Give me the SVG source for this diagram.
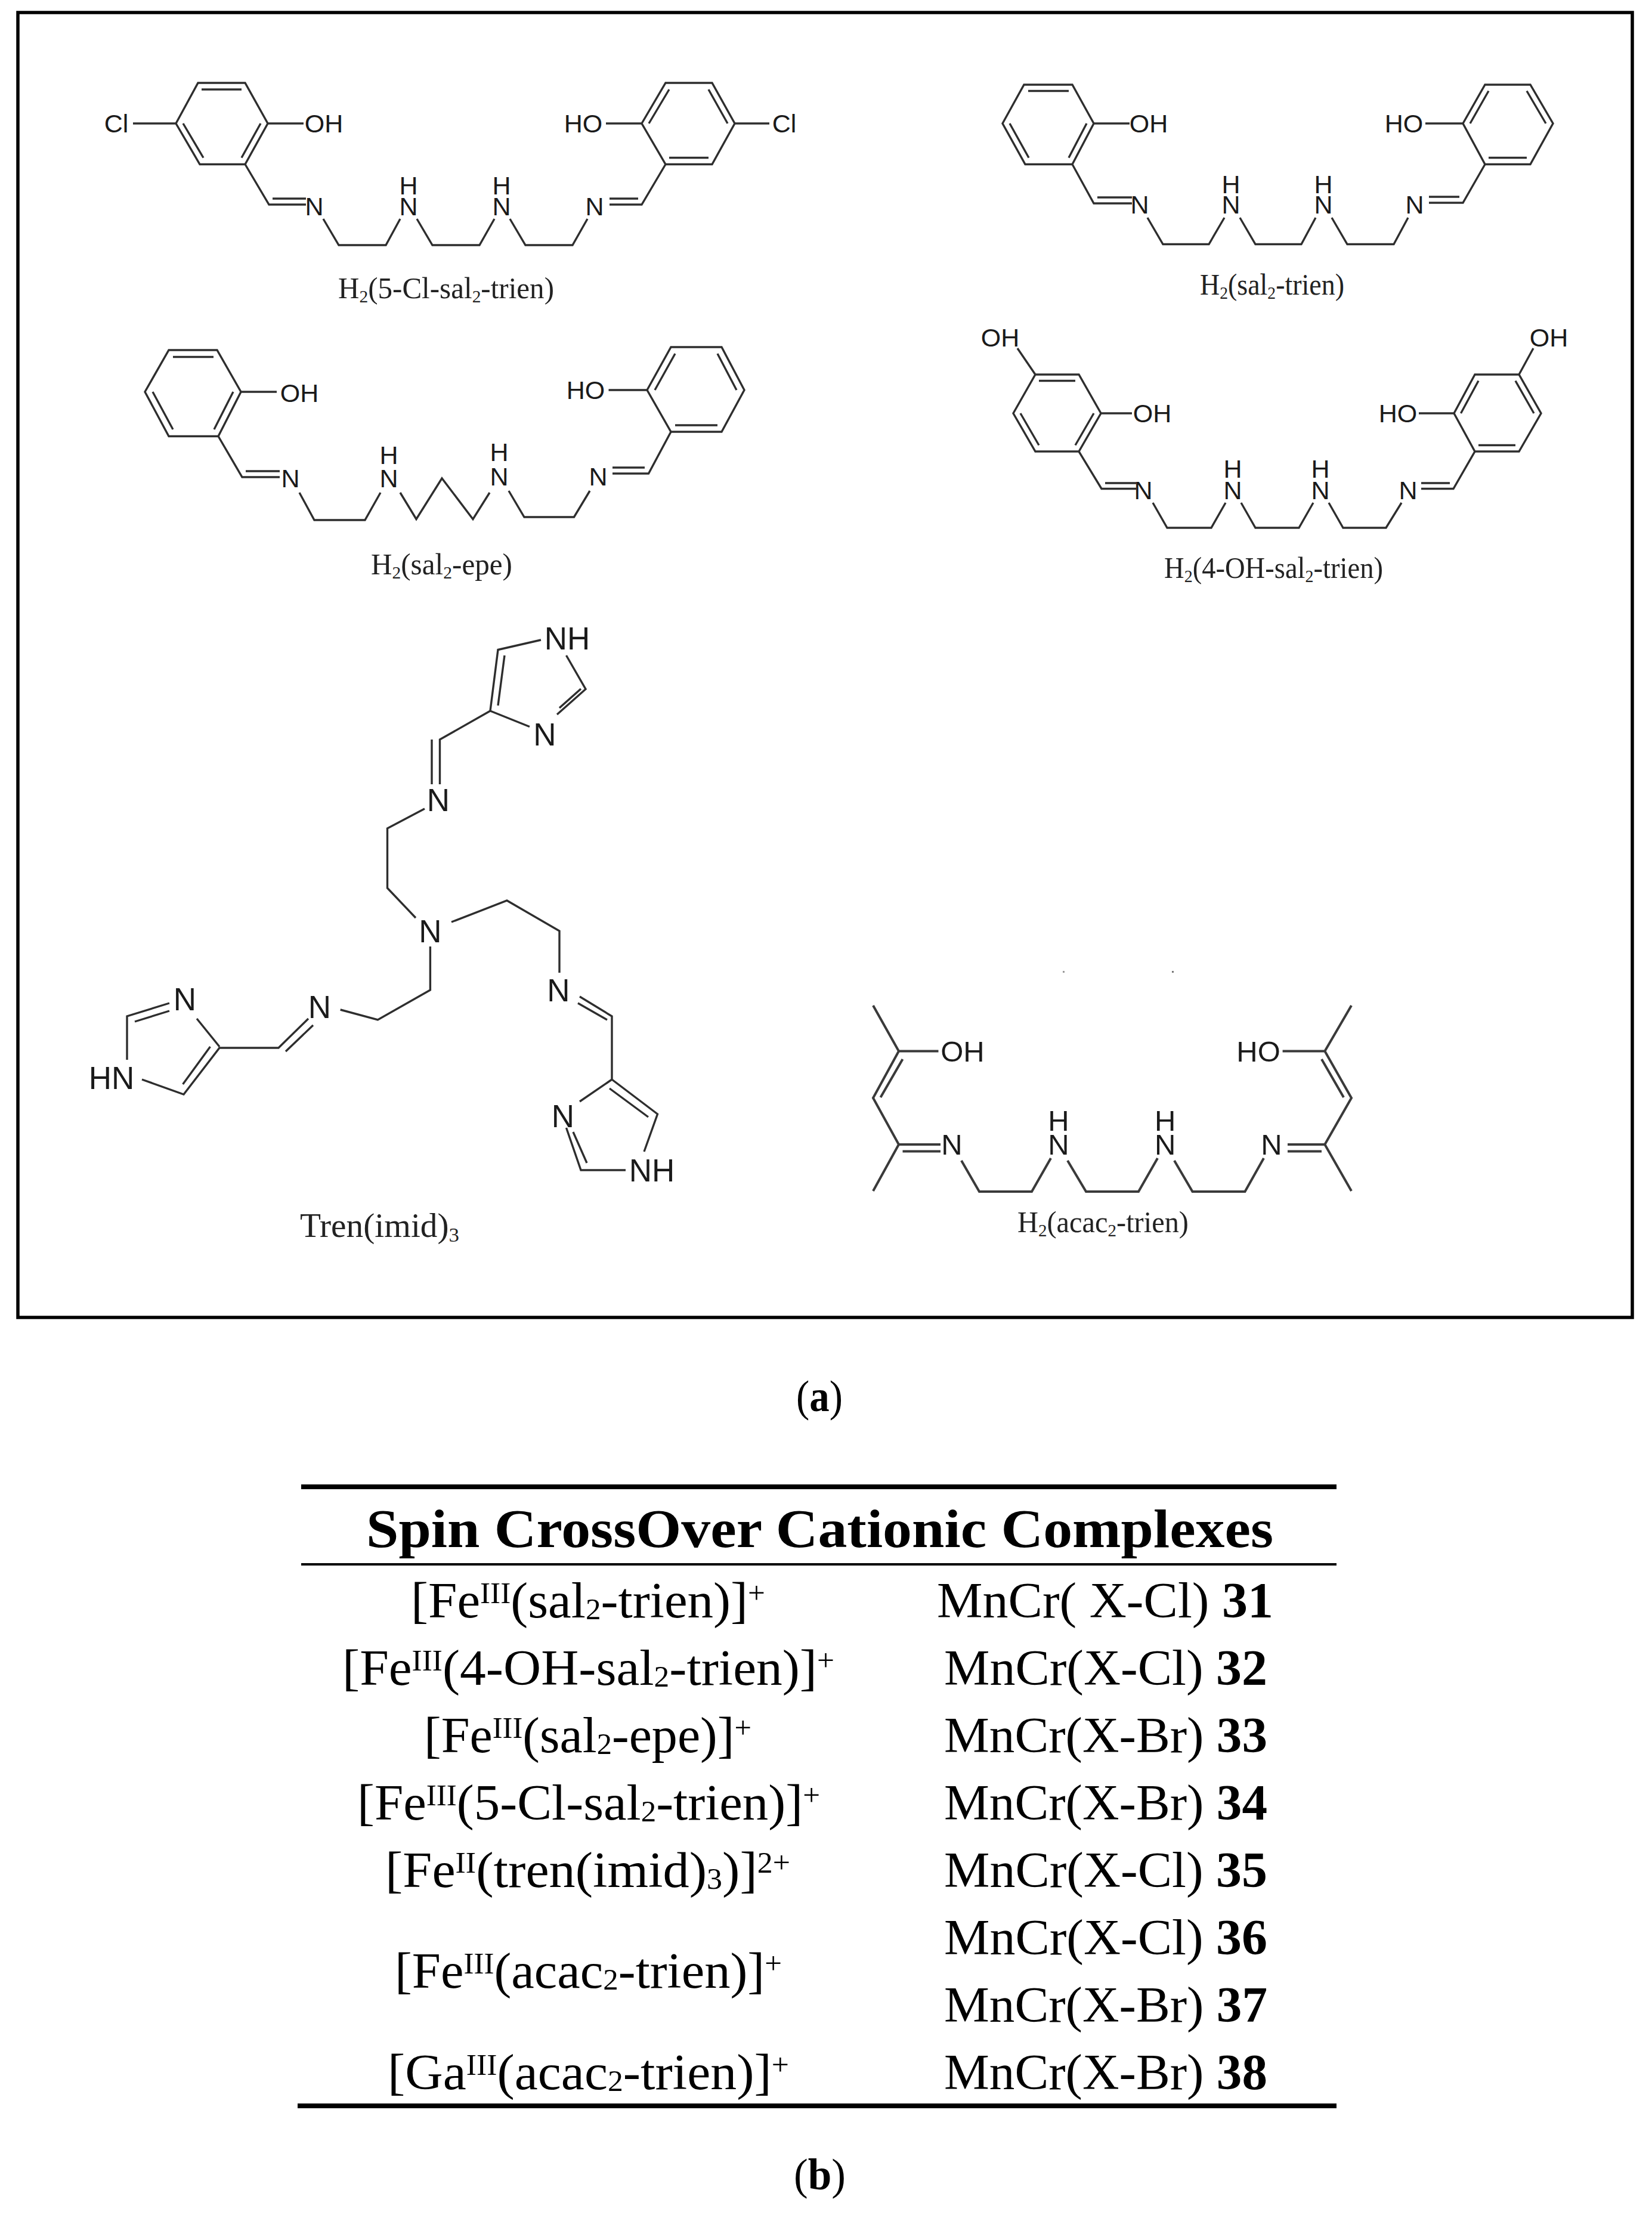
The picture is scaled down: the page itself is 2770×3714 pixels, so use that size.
<svg xmlns="http://www.w3.org/2000/svg" width="2770" height="3714" viewBox="0 0 2770 3714">
<style>
.b{fill:none;stroke:#2e2e2e;stroke-width:3.4;stroke-linejoin:miter;stroke-linecap:butt}
.bk{fill:none;stroke:#3a3a3a;stroke-width:4}
.a{font-family:"Liberation Sans",Arial,sans-serif;font-size:43px;fill:#1a1a1a;text-anchor:middle}
.t{font-size:53px}
.k{font-size:49px}
.l{font-family:"Liberation Serif","Times New Roman",serif;font-size:50px;fill:#222}
.tb{font-family:"Liberation Serif","Times New Roman",serif;font-size:85px;fill:#000}
.h{font-weight:bold;font-size:92px}
.n{font-weight:bold}
.s{font-size:50px}
.r{stroke:#000;fill:none}
</style>
<rect width="2770" height="3714" fill="#fff"/>
<rect id="frame" x="30" y="21" width="2707" height="2188" fill="none" stroke="#000" stroke-width="5.5"/>

<g id="mol-5-cl-sal2-trien">
<path class="b" d="M295 207L332 139H411L449 207L411 275.5H335ZM338 150H405M307 207L341 264.5M437 207L405 264.5M223 207H295M449 207H509M411 275.5L451 343H513M457 333H513M542 367L568 411H647L671 367M699 367L725 411H804L829 367M855 367L881 411H960L985 367M1022 343H1076L1116 275.5M1022 333H1070"/>
<path class="b" d="M1076 207L1116 139H1194L1232 207L1194 275.5H1116ZM1088 207L1122 150M1188 150L1220 207M1122 264.5H1188M1016 207H1076M1232 207H1290"/>
<text class="a" x="195" y="222">Cl</text><text class="a" x="543" y="222">OH</text><text class="a" x="978" y="222">HO</text><text class="a" x="1315" y="222">Cl</text>
<text class="a" x="527" y="361">N</text><text class="a" x="685" y="361">N</text><text class="a" x="685" y="326">H</text><text class="a" x="841" y="361">N</text><text class="a" x="841" y="326">H</text><text class="a" x="997" y="361">N</text>
<text class="l" x="567" y="500" textLength="362" lengthAdjust="spacingAndGlyphs">H<tspan font-size="30" dy="7">2</tspan><tspan dy="-7">(5-Cl-sal</tspan><tspan font-size="30" dy="7">2</tspan><tspan dy="-7">-trien)</tspan></text>
</g>

<g id="mol-sal2-trien">
<path class="b" d="M1681 207L1717 142H1798L1834 207L1798 275.5H1719ZM1724 152.5H1792M1693 207L1725 264.5M1822 207L1792 264.5M1834 207H1894M1798 275.5L1834 341H1898M1840 331H1898M1924 365L1950 409.5H2027L2053 365M2079 365L2105 409.5H2182L2206 365M2233 365L2259 409.5H2337L2361 365M2396 340H2453L2490 275.5M2396 330H2447"/>
<path class="b" d="M2453 207L2490 142H2566L2604 207L2566 275.5H2490ZM2465 207L2496 152.5M2560 152.5L2592 207M2496 264.5H2560M2390 207H2453"/>
<text class="a" x="1926" y="222">OH</text><text class="a" x="2354" y="222">HO</text>
<text class="a" x="1911" y="358">N</text><text class="a" x="2064" y="358">N</text><text class="a" x="2064" y="324">H</text><text class="a" x="2219" y="358">N</text><text class="a" x="2219" y="324">H</text><text class="a" x="2372" y="358">N</text>
<text class="l" x="2012" y="494" textLength="242" lengthAdjust="spacingAndGlyphs">H<tspan font-size="30" dy="7">2</tspan><tspan dy="-7">(sal</tspan><tspan font-size="30" dy="7">2</tspan><tspan dy="-7">-trien)</tspan></text>
</g>

<g id="mol-sal2-epe">
<path class="b" d="M243 657L283 587H364L404 657L366 731.5H283ZM290 598.5H358M256 657L290 720M391 657L359 720M404 657H464M366 731.5L406 800H469M412 790H469M502 826L527 872H612L638 826M671 826L698 870.5L741 802L793 870.5L821 826M853 823L879 867H962.5L989 823M1027 794H1087.5L1125 724M1027 784H1081"/>
<path class="b" d="M1085 654L1125 582H1210L1248 654L1210 724H1125ZM1098 654L1132 593M1203 593L1235 654M1132 713H1203M1020.5 654H1085"/>
<text class="a" x="502" y="674">OH</text><text class="a" x="982" y="669">HO</text>
<text class="a" x="487" y="817">N</text><text class="a" x="652" y="817">N</text><text class="a" x="652" y="778">H</text><text class="a" x="837" y="814">N</text><text class="a" x="837" y="773">H</text><text class="a" x="1003" y="814">N</text>
<text class="l" x="622" y="963" textLength="237" lengthAdjust="spacingAndGlyphs">H<tspan font-size="30" dy="7">2</tspan><tspan dy="-7">(sal</tspan><tspan font-size="30" dy="7">2</tspan><tspan dy="-7">-epe)</tspan></text>
</g>

<g id="mol-4-oh-sal2-trien">
<path class="b" d="M1699 693L1736 628H1809L1846 693L1809 757H1736ZM1742 638.5H1803M1711 693L1742 746.5M1834 693L1803 746.5M1706 584L1736 628M1846 693H1898M1809 757L1847 819.5H1905M1853 810H1905M1933 843L1957 885H2031L2055 843M2081 843L2105 885H2178L2202 843M2228 843L2252 885H2324L2350 843M2383 819.5H2437L2473 757M2383 810H2431"/>
<path class="b" d="M2438 693L2473 628H2547L2584 693L2547 757H2473ZM2449.5 693L2479 638.5M2541 638.5L2572 693M2479 746.5H2541M2379 693H2438M2571 584L2547 628"/>
<text class="a" x="1677" y="581">OH</text><text class="a" x="1932" y="708">OH</text><text class="a" x="2344" y="708">HO</text><text class="a" x="2597" y="581">OH</text>
<text class="a" x="1917" y="837">N</text><text class="a" x="2067" y="837">N</text><text class="a" x="2067" y="801">H</text><text class="a" x="2214" y="837">N</text><text class="a" x="2214" y="801">H</text><text class="a" x="2361" y="837">N</text>
<text class="l" x="1952" y="969" textLength="367" lengthAdjust="spacingAndGlyphs">H<tspan font-size="30" dy="7">2</tspan><tspan dy="-7">(4-OH-sal</tspan><tspan font-size="30" dy="7">2</tspan><tspan dy="-7">-trien)</tspan></text>
</g>

<g id="mol-tren-imid3">
<path class="b" d="M907 1073L835 1089.5L822 1192L888 1218.5M934 1198L982 1155.5L949.5 1099M846 1099L835 1183M938 1187L974 1155M822 1192L737.5 1240V1315M724 1240V1315M712 1356L649.5 1389V1489L697 1539M757 1546L850 1510L938 1561V1631M972 1671L1026 1704V1810L1102.5 1868L1080 1931M969 1682L1018 1710M1022 1825L1087 1873M1049 1962H974L949.5 1891M961 1898L984 1950M972 1847L1026 1810M721.4 1587V1660L633.4 1710L570.7 1693M517 1708L467 1757H368L308 1835L238 1810M525 1719L479 1763M352.5 1755L306.6 1818M213 1777V1704L284 1682M226 1713L284 1695M330 1708L368 1755"/>
<text class="a t" x="951" y="1089">NH</text><text class="a t" x="913.5" y="1250">N</text><text class="a t" x="735" y="1360">N</text><text class="a t" x="721.4" y="1580">N</text><text class="a t" x="936.5" y="1679">N</text><text class="a t" x="944" y="1890">N</text><text class="a t" x="1093" y="1981">NH</text><text class="a t" x="310" y="1694">N</text><text class="a t" x="536" y="1707">N</text><text class="a t" x="187" y="1826">HN</text>
<text class="l" x="503" y="2074" textLength="267" lengthAdjust="spacingAndGlyphs" style="font-size:56px">Tren(imid)<tspan dy="8" style="font-size:34px">3</tspan></text>
</g>

<g id="mol-acac2-trien">
<path class="bk" d="M1464 1686L1507 1762.5L1464 1841L1507 1919L1464 1997M1507 1762.5H1573.5M1513.5 1776L1476.5 1840M1507 1919H1577M1513.5 1930.5H1577M1612 1946L1642 1998H1730L1762 1942M1790 1946L1821 1998H1909L1941 1942M1969 1946L1999.5 1998H2087.5L2119 1942M2159 1919H2221.4L2266 1997M2159 1930.5H2216M2221.4 1919L2266 1841L2221.4 1762.5L2266 1686M2253 1840L2216 1776M2221.4 1762.5H2150.6"/>
<text class="a k" x="1614" y="1780">OH</text><text class="a k" x="2110" y="1780">HO</text>
<text class="a k" x="1596" y="1936">N</text><text class="a k" x="1775" y="1936">N</text><text class="a k" x="1775" y="1896">H</text><text class="a k" x="1953.6" y="1936">N</text><text class="a k" x="1953.6" y="1896">H</text><text class="a k" x="2132" y="1936">N</text>
<text class="l" x="1706" y="2066" textLength="287" lengthAdjust="spacingAndGlyphs">H<tspan font-size="30" dy="7">2</tspan><tspan dy="-7">(acac</tspan><tspan font-size="30" dy="7">2</tspan><tspan dy="-7">-trien)</tspan></text>
<rect x="1782" y="1628" width="3" height="3" fill="#999"/><rect x="1965" y="1628" width="3" height="3" fill="#777"/>
</g>

<text id="caption-a" class="tb" x="1335" y="2366" style="font-size:74px" textLength="78" lengthAdjust="spacingAndGlyphs">(<tspan class="n">a</tspan>)</text>

<g id="table">
<line class="r" x1="505" y1="2493" x2="2241" y2="2493" stroke-width="8"/>
<line class="r" x1="505" y1="2623" x2="2241" y2="2623" stroke-width="4"/>
<line class="r" x1="499" y1="3531" x2="2241" y2="3531" stroke-width="8"/>
<text class="tb h" x="614" y="2594" textLength="1521" lengthAdjust="spacingAndGlyphs">Spin CrossOver Cationic Complexes</text>

<text class="tb" x="689" y="2712" textLength="594" lengthAdjust="spacingAndGlyphs">[Fe<tspan class="s" dy="-24">III</tspan><tspan dy="24">(sal</tspan><tspan class="s" dy="3">2</tspan><tspan dy="-3">-trien)]</tspan><tspan class="s" dy="-24">+</tspan></text>
<text class="tb" x="574" y="2825" textLength="825" lengthAdjust="spacingAndGlyphs">[Fe<tspan class="s" dy="-24">III</tspan><tspan dy="24">(4-OH-sal</tspan><tspan class="s" dy="3">2</tspan><tspan dy="-3">-trien)]</tspan><tspan class="s" dy="-24">+</tspan></text>
<text class="tb" x="711" y="2938" textLength="549" lengthAdjust="spacingAndGlyphs">[Fe<tspan class="s" dy="-24">III</tspan><tspan dy="24">(sal</tspan><tspan class="s" dy="3">2</tspan><tspan dy="-3">-epe)]</tspan><tspan class="s" dy="-24">+</tspan></text>
<text class="tb" x="599" y="3051" textLength="776" lengthAdjust="spacingAndGlyphs">[Fe<tspan class="s" dy="-24">III</tspan><tspan dy="24">(5-Cl-sal</tspan><tspan class="s" dy="3">2</tspan><tspan dy="-3">-trien)]</tspan><tspan class="s" dy="-24">+</tspan></text>
<text class="tb" x="646" y="3164" textLength="679" lengthAdjust="spacingAndGlyphs">[Fe<tspan class="s" dy="-24">II</tspan><tspan dy="24">(tren(imid)</tspan><tspan class="s" dy="3">3</tspan><tspan dy="-3">)]</tspan><tspan class="s" dy="-24">2+</tspan></text>
<text class="tb" x="662" y="3333" textLength="649" lengthAdjust="spacingAndGlyphs">[Fe<tspan class="s" dy="-24">III</tspan><tspan dy="24">(acac</tspan><tspan class="s" dy="3">2</tspan><tspan dy="-3">-trien)]</tspan><tspan class="s" dy="-24">+</tspan></text>
<text class="tb" x="650" y="3503" textLength="673" lengthAdjust="spacingAndGlyphs">[Ga<tspan class="s" dy="-24">III</tspan><tspan dy="24">(acac</tspan><tspan class="s" dy="3">2</tspan><tspan dy="-3">-trien)]</tspan><tspan class="s" dy="-24">+</tspan></text>

<text class="tb" x="1571" y="2712" textLength="564" lengthAdjust="spacingAndGlyphs">MnCr( X-Cl) <tspan class="n">31</tspan></text>
<text class="tb" x="1583" y="2825" textLength="542" lengthAdjust="spacingAndGlyphs">MnCr(X-Cl) <tspan class="n">32</tspan></text>
<text class="tb" x="1583" y="2938" textLength="542" lengthAdjust="spacingAndGlyphs">MnCr(X-Br) <tspan class="n">33</tspan></text>
<text class="tb" x="1583" y="3051" textLength="542" lengthAdjust="spacingAndGlyphs">MnCr(X-Br) <tspan class="n">34</tspan></text>
<text class="tb" x="1583" y="3164" textLength="542" lengthAdjust="spacingAndGlyphs">MnCr(X-Cl) <tspan class="n">35</tspan></text>
<text class="tb" x="1583" y="3277" textLength="542" lengthAdjust="spacingAndGlyphs">MnCr(X-Cl) <tspan class="n">36</tspan></text>
<text class="tb" x="1583" y="3390" textLength="542" lengthAdjust="spacingAndGlyphs">MnCr(X-Br) <tspan class="n">37</tspan></text>
<text class="tb" x="1583" y="3503" textLength="542" lengthAdjust="spacingAndGlyphs">MnCr(X-Br) <tspan class="n">38</tspan></text>
</g>

<text id="caption-b" class="tb" x="1331" y="3671" style="font-size:74px" textLength="87" lengthAdjust="spacingAndGlyphs">(<tspan class="n">b</tspan>)</text>
</svg>
